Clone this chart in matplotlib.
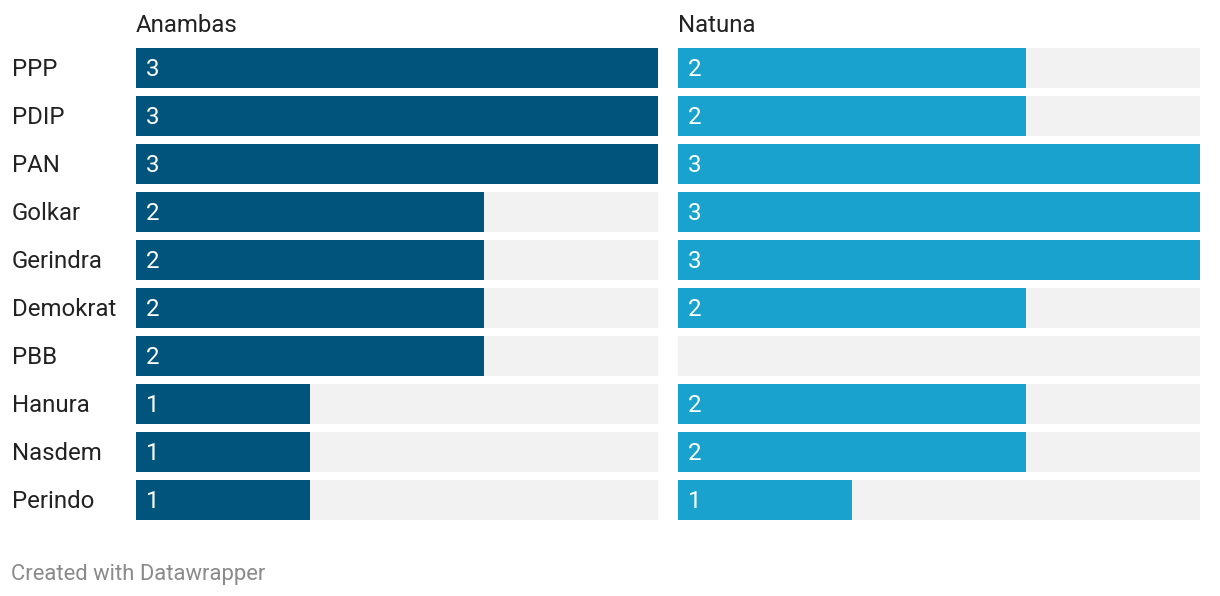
import matplotlib.pyplot as plt

plt.rcParams['font.family'] = ['Roboto', 'DejaVu Sans']

partai = ['PPP', 'PDIP', 'PAN', 'Golkar', 'Gerindra', 'Demokrat', 'PBB',
          'Hanura', 'Nasdem', 'Perindo']
anambas = [3, 3, 3, 2, 2, 2, 2, 1, 1, 1]
natuna = [2, 2, 3, 3, 3, 2, 0, 2, 2, 1]
judul = ['Anambas', 'Natuna']
warna = ['#01557d', '#18a2cd']
maks = 3

W, H = 1220, 596
fig = plt.figure(figsize=(W / 100, H / 100), dpi=100)

# posisi panel dalam piksel (kiri, lebar)
panel = [(136, 522), (678, 522)]
y_atas, y_bawah = 44, 524
fs = 17.3

for k, (data, nama, c) in enumerate(zip([anambas, natuna], judul, warna)):
    x0, w = panel[k]
    ax = fig.add_axes([x0 / W, (H - y_bawah) / H, w / W, (y_bawah - y_atas) / H])
    pos = range(len(partai))
    ax.barh(pos, [maks] * len(partai), height=40 / 48, color='#f2f2f2', linewidth=0)
    ax.barh(pos, data, height=40 / 48, color=c, linewidth=0)
    for i, v in enumerate(data):
        if v > 0:
            ax.text(10 / w * maks, i + 0.03, str(v), color='white', fontsize=fs,
                    va='center', ha='left')
    ax.set_xlim(0, maks)
    ax.set_ylim(len(partai) - 0.5, -0.5)
    ax.axis('off')
    fig.text(x0 / W, 1 - 25 / H, nama, fontsize=fs, color='#222222',
             va='center', ha='left')
    if k == 0:
        for i, p in enumerate(partai):
            fig.text(12 / W, 1 - (69.5 + 48 * i) / H, p, fontsize=fs,
                     color='#222222', va='center', ha='left')

fig.text(11 / W, 1 - 574.5 / H, 'Created with Datawrapper', fontsize=15.8,
         color='#8a8a8a', va='center', ha='left')

fig.savefig('out.png', dpi=100)
